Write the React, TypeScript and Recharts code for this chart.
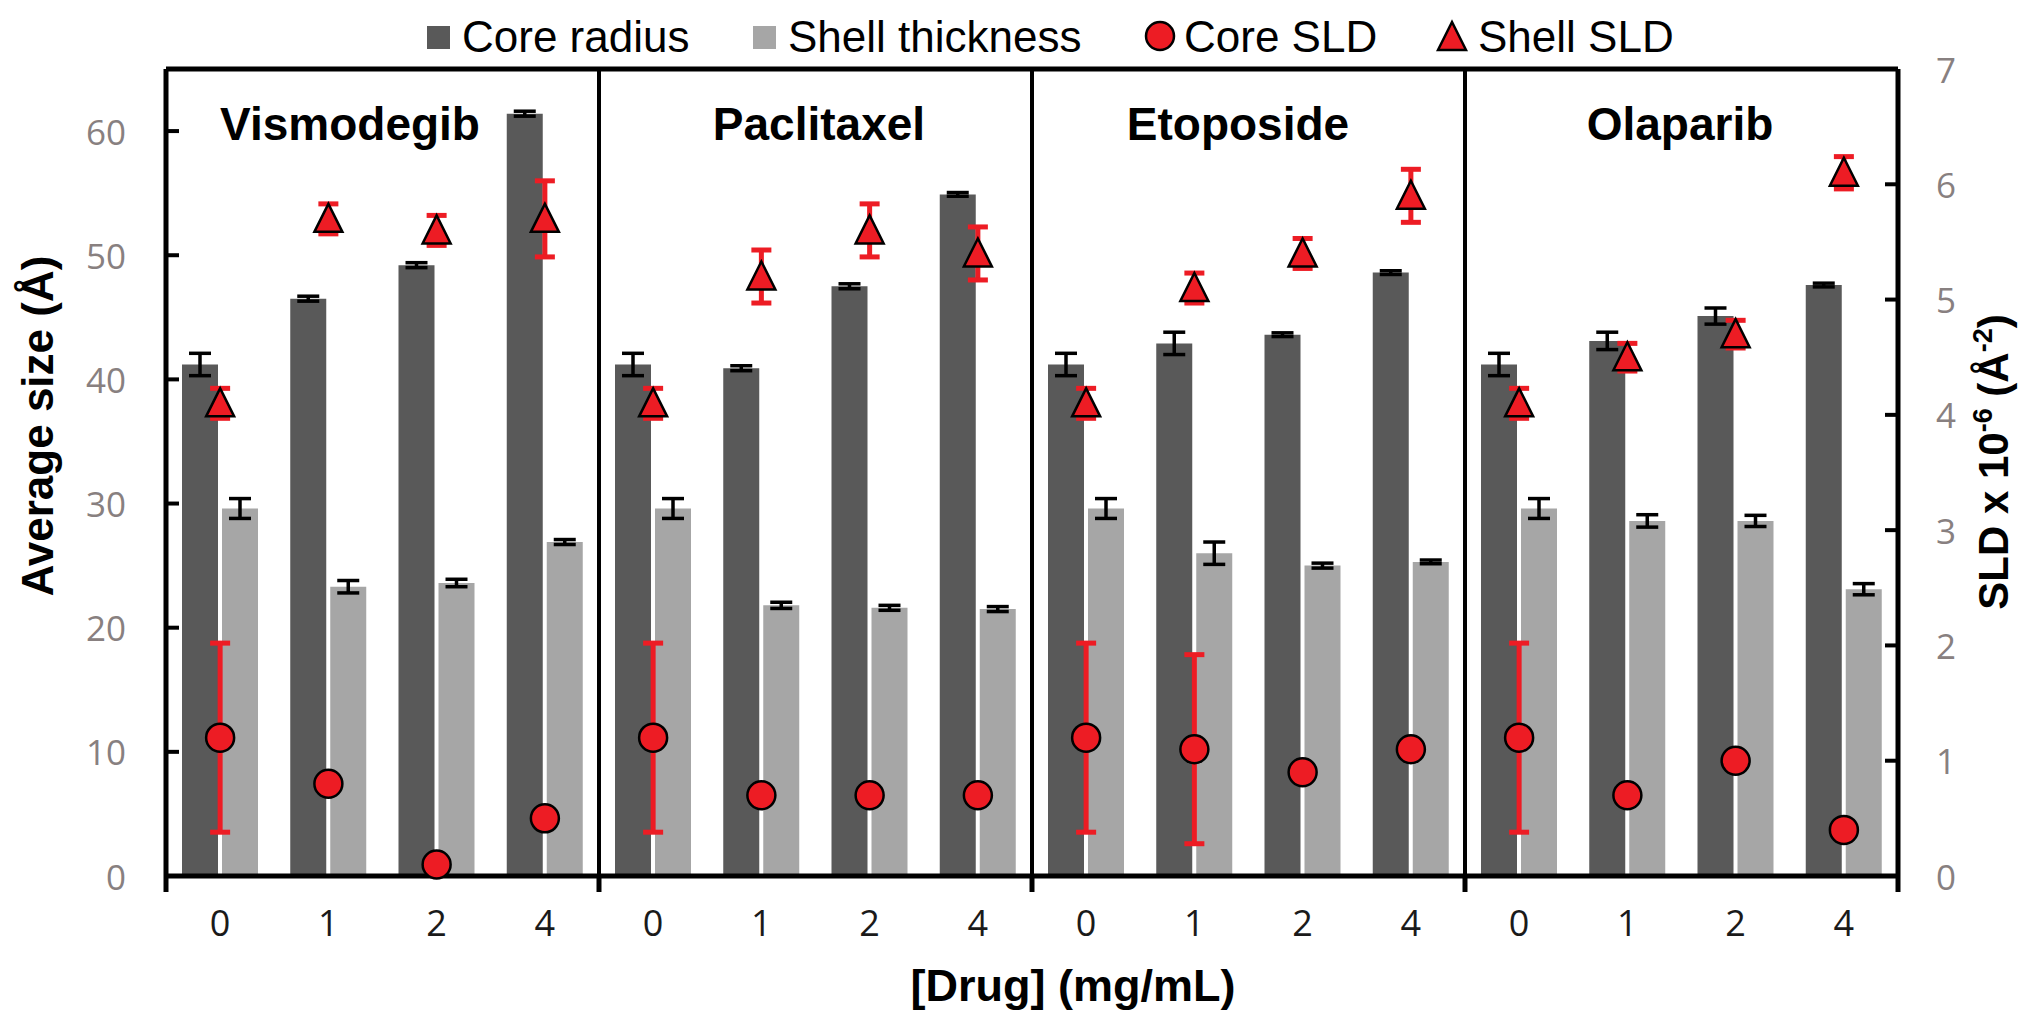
import React from 'react';
import { ComposedChart, Bar, Line, XAxis, YAxis, ErrorBar, ReferenceLine } from 'recharts';

const drugs = ['Vismodegib', 'Paclitaxel', 'Etoposide', 'Olaparib'];
const concentrations = ['0', '1', '2', '4'];

const coreRadius = [41.2, 46.5, 49.2, 61.4, 41.2, 40.9, 47.5, 54.9, 41.2, 42.9, 43.6, 48.6, 41.2, 43.1, 45.1, 47.6];
const coreRadiusErr = [0.9, 0.2, 0.2, 0.2, 0.9, 0.2, 0.2, 0.15, 0.9, 0.9, 0.15, 0.15, 0.9, 0.7, 0.65, 0.15];
const shellThickness = [29.6, 23.3, 23.6, 26.9, 29.6, 21.8, 21.6, 21.5, 29.6, 26.0, 25.0, 25.3, 29.6, 28.6, 28.6, 23.1];
const shellThicknessErr = [0.8, 0.5, 0.3, 0.2, 0.8, 0.25, 0.2, 0.2, 0.8, 0.9, 0.2, 0.15, 0.8, 0.5, 0.45, 0.45];
const coreSLD = [1.2, 0.8, 0.1, 0.5, 1.2, 0.7, 0.7, 0.7, 1.2, 1.1, 0.9, 1.1, 1.2, 0.7, 1.0, 0.4];
const coreSLDErr = [0.82, 0.05, 0.05, 0.05, 0.82, 0.05, 0.05, 0.05, 0.82, 0.82, 0.05, 0.05, 0.82, 0.05, 0.05, 0.05];
const shellSLD = [4.1, 5.7, 5.6, 5.7, 4.1, 5.2, 5.6, 5.4, 4.1, 5.1, 5.4, 5.9, 4.1, 4.5, 4.7, 6.1];
const shellSLDErr = [0.13, 0.13, 0.13, 0.33, 0.13, 0.23, 0.23, 0.23, 0.13, 0.13, 0.13, 0.23, 0.13, 0.12, 0.12, 0.14];

const leftTicks = [0, 10, 20, 30, 40, 50, 60];
const rightTicks = [0, 1, 2, 3, 4, 5, 6, 7];

const data = drugs.flatMap((drug, d) =>
  concentrations.map((conc, c) => {
    const i = d * concentrations.length + c;
    return {
      id: `${drug}-${conc}`,
      conc,
      coreRadius: coreRadius[i],
      coreRadiusErr: coreRadiusErr[i],
      shellThickness: shellThickness[i],
      shellThicknessErr: shellThicknessErr[i],
      coreSLD: coreSLD[i],
      coreSLDErr: coreSLDErr[i],
      shellSLD: shellSLD[i],
      shellSLDErr: shellSLDErr[i],
    };
  })
);

const W = 2040;
const H = 1025;
const MARGIN = { top: 69, right: 42, bottom: 89, left: 66 };
const Y_AXIS_W = 100;
const PLOT_W = W - MARGIN.left - MARGIN.right - 2 * Y_AXIS_W;
const BAND = PLOT_W / data.length;

const ARIAL = '"Liberation Sans", Arial, sans-serif';
const TICKFONT = '"Open Sans", "DejaVu Sans", sans-serif';
const DARK = '#595959';
const LIGHT = '#a6a6a6';
const RED = '#ed1c24';
const GRAY_TXT = '#888080';

const triPoints = (cx: number, cy: number) => `${cx},${cy - 15} ${cx - 14},${cy + 13} ${cx + 14},${cy + 13}`;

const CircleDot = (props: any) => {
  const { cx, cy, index } = props;
  if (cx == null || cy == null) return <g key={`c-${index}`} />;
  return <circle key={`c-${index}`} cx={cx} cy={cy} r={14} fill={RED} stroke="#000" strokeWidth={2.5} />;
};

const TriDot = (props: any) => {
  const { cx, cy, index } = props;
  if (cx == null || cy == null) return <g key={`t-${index}`} />;
  return <polygon key={`t-${index}`} points={triPoints(cx, cy)} fill={RED} stroke="#000" strokeWidth={2.5} />;
};

const LeftTick = (props: any) => {
  const { x, y, payload } = props;
  return (
    <g>
      <line x1={x} x2={x + 13} y1={y} y2={y} stroke="#000" strokeWidth={4} />
      <text x={x - 40} y={y} textAnchor="end" dominantBaseline="central" fontFamily={TICKFONT} fontSize={35} fill={GRAY_TXT}>
        {payload.value}
      </text>
    </g>
  );
};

const RightTick = (props: any) => {
  const { x, y, payload } = props;
  return (
    <g>
      <line x1={x} x2={x - 13} y1={y} y2={y} stroke="#000" strokeWidth={4} />
      <text x={x + 38} y={y} textAnchor="start" dominantBaseline="central" fontFamily={TICKFONT} fontSize={35} fill={GRAY_TXT}>
        {payload.value}
      </text>
    </g>
  );
};

const CatTick = (props: any) => {
  const { x, y, payload, index } = props;
  const label = String(payload.value).split('-').pop();
  const half = payload && typeof payload.offset === 'number' && payload.offset > 0 ? payload.offset : BAND / 2;
  const i = typeof index === 'number' ? index : data.findIndex((r) => r.id === payload.value);
  const n = concentrations.length;
  return (
    <g>
      {i % n === 0 && <line x1={x - half} x2={x - half} y1={y} y2={y + 16} stroke="#000" strokeWidth={5} />}
      {i === data.length - 1 && <line x1={x + half} x2={x + half} y1={y} y2={y + 16} stroke="#000" strokeWidth={5} />}
      <text x={x} y={y + 46} textAnchor="middle" dominantBaseline="central" fontFamily={TICKFONT} fontSize={36} fill="#1a1a1a">
        {label}
      </text>
    </g>
  );
};

const panelTitleX = [350, 819, 1238, 1680];

export default function App() {
  return (
    <div style={{ position: 'absolute', left: 0, top: 0, width: W, height: H, background: '#fff' }}>
      <ComposedChart width={W} height={H} data={data} margin={MARGIN}>
        <XAxis
          xAxisId="cat"
          dataKey="id"
          type="category"
          height={60}
          interval={0}
          tickLine={false}
          axisLine={{ stroke: '#000', strokeWidth: 5 }}
          tickSize={0}
          tickMargin={0}
          tick={<CatTick />}
        />
        <YAxis
          yAxisId="left"
          orientation="left"
          width={Y_AXIS_W}
          domain={[0, 65]}
          ticks={leftTicks}
          interval={0}
          tickSize={0}
          tickMargin={0}
          tickLine={false}
          axisLine={{ stroke: '#000', strokeWidth: 5 }}
          tick={<LeftTick />}
        />
        <YAxis
          yAxisId="right"
          orientation="right"
          width={Y_AXIS_W}
          domain={[0, 7]}
          ticks={rightTicks}
          interval={0}
          tickSize={0}
          tickMargin={0}
          tickLine={false}
          axisLine={{ stroke: '#000', strokeWidth: 5 }}
          tick={<RightTick />}
        />
        <Bar xAxisId="cat" yAxisId="left" dataKey="coreRadius" fill={DARK} barSize={36} isAnimationActive={false}>
          <ErrorBar dataKey="coreRadiusErr" width={11} stroke="#000" strokeWidth={3.5} direction="y" />
        </Bar>
        <Bar xAxisId="cat" yAxisId="left" dataKey="shellThickness" fill={LIGHT} barSize={36} isAnimationActive={false}>
          <ErrorBar dataKey="shellThicknessErr" width={11} stroke="#000" strokeWidth={3.5} direction="y" />
        </Bar>
        {drugs.slice(1).map((d) => (
          <ReferenceLine
            key={d}
            xAxisId="cat"
            yAxisId="left"
            x={`${d}-${concentrations[0]}`}
            position="start"
            stroke="#000"
            strokeWidth={4}
          />
        ))}
        <ReferenceLine xAxisId="cat" yAxisId="left" y={65} stroke="#000" strokeWidth={5} />
        <Line
          xAxisId="cat"
          yAxisId="right"
          dataKey="coreSLD"
          stroke="none"
          dot={CircleDot}
          activeDot={false}
          isAnimationActive={false}
        >
          <ErrorBar dataKey="coreSLDErr" width={10} stroke={RED} strokeWidth={5} direction="y" />
        </Line>
        <Line
          xAxisId="cat"
          yAxisId="right"
          dataKey="shellSLD"
          stroke="none"
          dot={TriDot}
          activeDot={false}
          isAnimationActive={false}
        >
          <ErrorBar dataKey="shellSLDErr" width={10} stroke={RED} strokeWidth={5} direction="y" />
        </Line>
      </ComposedChart>
      <svg width={W} height={H} style={{ position: 'absolute', left: 0, top: 0, pointerEvents: 'none' }}>
        <rect x={427} y={26} width={23} height={23} fill={DARK} />
        <text x={462} y={52} fontFamily={ARIAL} fontSize={44} fill="#000">Core radius</text>
        <rect x={753} y={26} width={23} height={23} fill={LIGHT} />
        <text x={788} y={52} fontFamily={ARIAL} fontSize={44} fill="#000">Shell thickness</text>
        <circle cx={1160} cy={36} r={14} fill={RED} stroke="#000" strokeWidth={2.5} />
        <text x={1184} y={52} fontFamily={ARIAL} fontSize={44} fill="#000">Core SLD</text>
        <polygon points={triPoints(1452, 37)} fill={RED} stroke="#000" strokeWidth={2.5} />
        <text x={1478} y={52} fontFamily={ARIAL} fontSize={44} fill="#000">Shell SLD</text>

        {drugs.map((d, i) => (
          <text key={d} x={panelTitleX[i]} y={140} textAnchor="middle" fontFamily={ARIAL} fontWeight="bold" fontSize={46} fill="#000">
            {d}
          </text>
        ))}

        <text
          x={53}
          y={426}
          transform="rotate(-90, 53, 426)"
          textAnchor="middle"
          fontFamily={ARIAL}
          fontWeight="bold"
          fontSize={44}
          fill="#000"
        >
          Average size (Å)
        </text>
        <text
          x={2008}
          y={462}
          transform="rotate(-90, 2008, 462)"
          textAnchor="middle"
          fontFamily={ARIAL}
          fontWeight="bold"
          fontSize={42}
          fill="#000"
        >
          SLD x 10
          <tspan fontSize={27} dy={-16}>-6</tspan>
          <tspan dy={16}> (Å</tspan>
          <tspan fontSize={27} dy={-16}>-2</tspan>
          <tspan dy={16}>)</tspan>
        </text>
        <text x={1073} y={1001} textAnchor="middle" fontFamily={ARIAL} fontWeight="bold" fontSize={45} fill="#000">
          [Drug] (mg/mL)
        </text>
      </svg>
    </div>
  );
}
